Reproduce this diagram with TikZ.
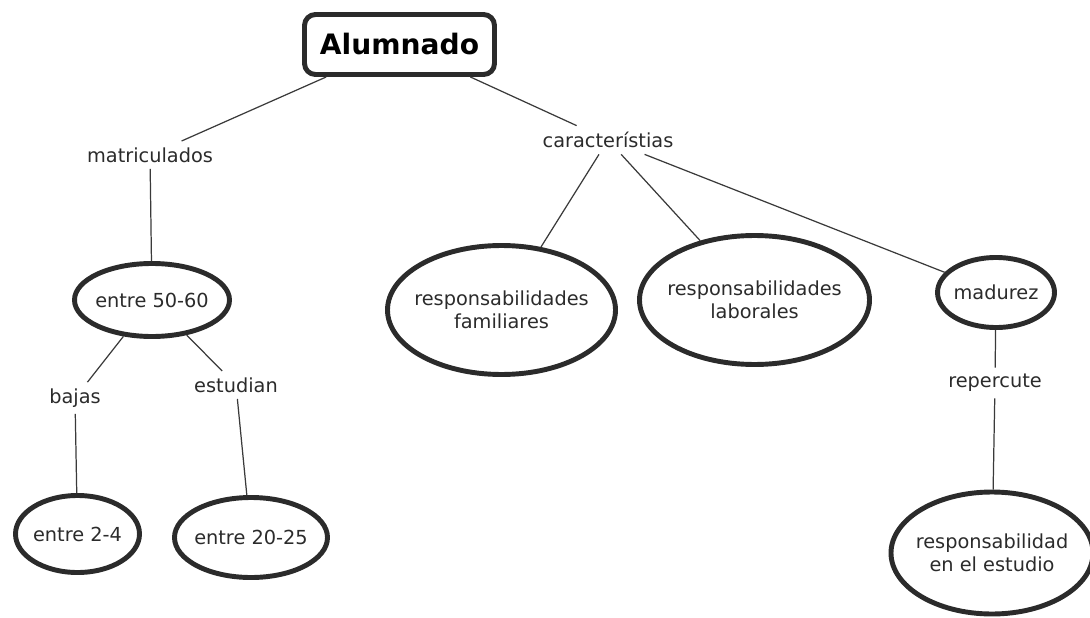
\documentclass[tikz,border=0pt]{standalone}
\usepackage{fontspec}
\setmainfont{DejaVu Sans}
\usetikzlibrary{shapes.geometric}

\definecolor{inkgray}{HTML}{2B2B2B}
\definecolor{wiregray}{HTML}{3A3A3A}

\tikzset{
    rootbox/.style={draw=inkgray, line width=2.8pt, rounded corners=0.22cm, minimum width=3.8cm, minimum height=1.2cm, font=\bfseries\fontsize{16}{19}\selectfont, text=black},
    linklabel/.style={inner sep=3.5pt, font=\fontsize{11}{13}\selectfont, text=inkgray},
    bubble/.style={ellipse, draw=inkgray, line width=2.8pt, inner sep=0pt},
    bubbletext/.style={align=center, font=\fontsize{11}{13}\selectfont, text=inkgray},
    wire/.style={draw=wiregray, line width=0.7pt}
}

\begin{document}
\begin{tikzpicture}
        \useasboundingbox (0,0) rectangle (21.8,-12.36);

        \node[rootbox] (alumnado) at (7.99,-0.89) {Alumnado};

        \node[linklabel] (matric) at (3.0,-3.1) {matriculados};
        \node[linklabel] (caract) at (12.16,-2.8) {característias};
        \node[linklabel] (bajas) at (1.5,-7.96) {bajas};
        \node[linklabel] (estudian) at (4.72,-7.7) {estudian};
        \node[linklabel] (repercute) at (19.9,-7.66) {repercute};

        \node[bubble, minimum width=3.1cm, minimum height=1.46cm, label={[bubbletext]center:entre 50-60}] (e5060) at (3.04,-6.0) {};
        \node[bubble, minimum width=2.48cm, minimum height=1.54cm, label={[bubbletext]center:entre 2-4}] (e24) at (1.55,-10.68) {};
        \node[bubble, minimum width=3.06cm, minimum height=1.6cm, label={[bubbletext]center:entre 20-25}] (e2025) at (5.02,-10.75) {};
        \node[bubble, minimum width=4.56cm, minimum height=2.58cm, label={[bubbletext]center:responsabilidades\\familiares}] (famil) at (10.03,-6.2) {};
        \node[bubble, minimum width=4.6cm, minimum height=2.58cm, label={[bubbletext]center:responsabilidades\\laborales}] (labor) at (15.09,-6.0) {};
        \node[bubble, minimum width=2.34cm, minimum height=1.4cm, label={[bubbletext]center:madurez}] (madurez) at (19.92,-5.85) {};
        \node[bubble, minimum width=4.04cm, minimum height=2.44cm, label={[bubbletext]center:responsabilidad\\en el estudio}] (estudio) at (19.84,-11.06) {};

        \draw[wire] (alumnado) -- (matric);
        \draw[wire] (alumnado) -- (caract);
        \draw[wire] (matric) -- (e5060);
        \draw[wire] (e5060) -- (bajas);
        \draw[wire] (e5060) -- (estudian);
        \draw[wire] (bajas) -- (e24);
        \draw[wire] (estudian) -- (e2025);
        \draw[wire] (caract) -- (famil);
        \draw[wire] (caract) -- (labor);
        \draw[wire] (caract) -- (madurez);
        \draw[wire] (madurez) -- (repercute);
        \draw[wire] (repercute) -- (estudio);

\end{tikzpicture}
\end{document}
